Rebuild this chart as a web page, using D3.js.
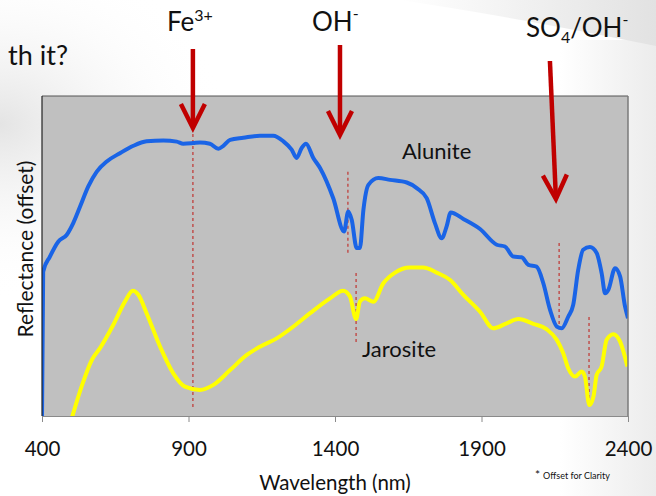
<!DOCTYPE html>
<html>
<head>
<meta charset="utf-8">
<script src="https://cdn.jsdelivr.net/npm/d3@7"></script>
<style>
  html, body { margin: 0; padding: 0; background: #fff; }
  svg { display: block; font-family: Lato, "Open Sans", sans-serif; }
</style>
</head>
<body>
<div id="chart"></div>
<script>
// wavelength (nm) / offset reflectance
const aluniteWl = [400, 404, 427, 456, 484, 507, 530, 558, 587, 621, 666, 712, 757, 814, 860, 882, 916, 939, 973, 1002,
  1019, 1042, 1087, 1144, 1189, 1224, 1252, 1269, 1286, 1301, 1326, 1349, 1394, 1431, 1445, 1457, 1474, 1485, 1497, 1514,
  1548, 1588, 1645, 1679, 1713, 1741, 1764, 1781, 1795, 1838, 1895, 1952, 1980, 2009, 2037, 2060, 2088, 2111, 2134, 2157,
  2174, 2196, 2213, 2230, 2247, 2270, 2293, 2310, 2322, 2333, 2356, 2373, 2390, 2400];
const aluniteR = [0, 48.7, 53.8, 58.9, 61.1, 65.2, 70.7, 77.5, 82.5, 85.9, 88.7, 91.2, 92.7, 93.0, 92.6, 91.9, 92.1, 92.3, 91.9, 90.2,
  91.2, 93.2, 93.9, 94.6, 94.6, 92.7, 89.9, 87.1, 90.4, 91.9, 87.1, 83.7, 73.5, 62.3, 69.0, 66.2, 56.7, 56.7, 69.6, 78.0,
  80.3, 79.7, 78.8, 76.9, 73.5, 65.1, 60.0, 64.0, 68.7, 66.5, 63.1, 57.8, 57.2, 53.8, 53.6, 51.0, 50.4, 44.8, 35.8, 30.2,
  29.6, 33.5, 37.5, 49.3, 56.1, 57.0, 55.0, 48.2, 41.4, 42.6, 49.9, 47.1, 36.9, 33.0];

const jarositeWl = [495, 535, 570, 598, 643, 683, 710, 729, 757, 803, 848, 888, 939, 985, 1042, 1099, 1144, 1201, 1258, 1315,
  1383, 1428, 1451, 1472, 1485, 1502, 1531, 1565, 1605, 1656, 1701, 1747, 1793, 1838, 1895, 1940, 1986, 2026, 2077, 2122,
  2157, 2179, 2196, 2219, 2242, 2253, 2268, 2282, 2293, 2310, 2327, 2350, 2373, 2398];
const jarositeR = [-3, 9.9, 18.9, 22.9, 30.7, 38.6, 42.3, 40.9, 34.7, 23.4, 14.4, 9.9, 8.8, 10.5, 15.5, 20.6, 23.4, 26.2, 30.2, 34.7,
  39.7, 42.3, 40.3, 32.7, 38.6, 39.7, 38.6, 44.8, 48.4, 50.1, 50.1, 48.4, 45.9, 40.9, 35.2, 29.6, 31.3, 32.7, 31.1, 29.3,
  25.7, 21.2, 16.1, 13.3, 15.0, 13.3, 3.7, 6.5, 13.9, 16.7, 25.7, 27.6, 25.1, 16.7];

const xTicks = [400, 900, 1400, 1900, 2400];

// dotted markers: wavelength, top and bottom reflectance
const markerWl = [915, 1444, 1472, 2165, 2267];
const markerTop = [97.2, 82.4, 48.3, 58.4, 33.4];
const markerBottom = [2.0, 54.4, 25.0, 29.7, 5.4];

// absorption arrows above the plot
const arrowLabels = ['Fe', 'OH', 'SO4/OH'];
const arrowWl = [915, 1417, 2154];

const width = 656, height = 496;
const margin = { top: 96, right: 28, bottom: 80, left: 42 };

const svg = d3.select('#chart').append('svg')
  .attr('width', width)
  .attr('height', height);

// slide background
const defs = svg.append('defs');
const swoosh = defs.append('linearGradient').attr('id', 'swoosh').attr('x1', 0).attr('x2', 1).attr('y1', 0).attr('y2', 0);
swoosh.append('stop').attr('offset', '0%').attr('stop-color', '#ffffff');
swoosh.append('stop').attr('offset', '100%').attr('stop-color', '#e2e2e2');
const side = defs.append('linearGradient').attr('id', 'side').attr('x1', 0).attr('x2', 1).attr('y1', 0).attr('y2', 0);
side.append('stop').attr('offset', '0%').attr('stop-color', '#ffffff');
side.append('stop').attr('offset', '100%').attr('stop-color', '#ececec');
const corner = defs.append('radialGradient').attr('id', 'corner').attr('cx', 0).attr('cy', 0.25).attr('r', 0.35);
corner.append('stop').attr('offset', '0%').attr('stop-color', '#e4e4e4');
corner.append('stop').attr('offset', '100%').attr('stop-color', '#ffffff').attr('stop-opacity', 0);

svg.append('rect').attr('width', width).attr('height', height).attr('fill', '#fff');
svg.append('rect').attr('width', width).attr('height', height).attr('fill', 'url(#corner)');
svg.append('rect').attr('x', 560).attr('y', 40).attr('width', 96).attr('height', 456).attr('fill', 'url(#side)');
svg.append('path')
  .attr('d', 'M400,0 Q520,18 656,46 L656,0 Z')
  .attr('fill', 'url(#swoosh)');

const x = d3.scaleLinear().domain([400, 2400]).range([margin.left, width - margin.right]);
const y = d3.scaleLinear().domain([0, 108]).range([height - margin.bottom, margin.top]);

const plotW = x(2400) - x(400);
const plotH = y(0) - y(108);

svg.append('rect')
  .attr('x', x(400)).attr('y', y(108))
  .attr('width', plotW).attr('height', plotH)
  .attr('fill', '#c0c0c0');

defs.append('clipPath').attr('id', 'plotClip')
  .append('rect')
  .attr('x', x(400)).attr('y', y(108))
  .attr('width', plotW).attr('height', plotH);

// dotted guide lines
const markers = svg.append('g');
markerWl.forEach((w, i) => {
  markers.append('line')
    .attr('x1', x(w)).attr('x2', x(w))
    .attr('y1', y(markerTop[i])).attr('y2', y(markerBottom[i]))
    .attr('stroke', '#c0504d')
    .attr('stroke-width', 1.5)
    .attr('stroke-dasharray', '3,3');
});

const line = d3.line()
  .x(d => x(d[0]))
  .y(d => y(d[1]))
  .curve(d3.curveMonotoneX);

const curves = svg.append('g').attr('clip-path', 'url(#plotClip)');
curves.append('path')
  .datum(jarositeWl.map((w, i) => [w, jarositeR[i]]))
  .attr('d', line)
  .attr('fill', 'none')
  .attr('stroke', '#ffff00')
  .attr('stroke-width', 4)
  .attr('stroke-linejoin', 'round');
curves.append('path')
  .datum(aluniteWl.map((w, i) => [w, aluniteR[i]]))
  .attr('d', line)
  .attr('fill', 'none')
  .attr('stroke', '#1a64e6')
  .attr('stroke-width', 4)
  .attr('stroke-linejoin', 'round');

// plot frame
svg.append('line').attr('x1', x(400)).attr('x2', x(2400)).attr('y1', y(108)).attr('y2', y(108))
  .attr('stroke', '#555').attr('stroke-width', 1);
svg.append('line').attr('x1', x(2400)).attr('x2', x(2400)).attr('y1', y(108)).attr('y2', y(0))
  .attr('stroke', '#7a7a7a').attr('stroke-width', 1.5);
svg.append('line').attr('x1', x(400)).attr('x2', x(400)).attr('y1', y(108)).attr('y2', y(0))
  .attr('stroke', '#222').attr('stroke-width', 1.2);

// x axis
const xAxis = svg.append('g')
  .attr('transform', `translate(0,${y(0)})`)
  .call(d3.axisBottom(x).tickValues(xTicks).tickSize(6).tickPadding(19).tickFormat(d3.format('d')));
xAxis.select('.domain').attr('stroke', '#8a8a8a');
xAxis.selectAll('.tick line').attr('stroke', '#8a8a8a');
xAxis.selectAll('.tick text')
  .attr('font-family', 'Lato, sans-serif')
  .attr('font-size', 20.5)
  .attr('fill', '#111');

svg.append('text')
  .attr('x', (x(400) + x(2400)) / 2)
  .attr('y', 490)
  .attr('text-anchor', 'middle')
  .attr('font-size', 20.5)
  .attr('fill', '#111')
  .text('Wavelength (nm)');

svg.append('text')
  .attr('transform', 'translate(33,249) rotate(-90)')
  .attr('text-anchor', 'middle')
  .attr('font-size', 21)
  .attr('fill', '#111')
  .text('Reflectance (offset)');

const note = svg.append('text')
  .attr('x', 535).attr('y', 479)
  .attr('font-size', 9)
  .attr('fill', '#111');
note.append('tspan').attr('font-size', 12).attr('dy', 0).text('*');
note.append('tspan').attr('dx', 3).text('Offset for Clarity');

// series labels
svg.append('text').attr('x', 402).attr('y', 159).attr('font-size', 22).attr('fill', '#111').text('Alunite');
svg.append('text').attr('x', 362).attr('y', 357).attr('font-size', 22).attr('fill', '#111').text('Jarosite');

// cropped slide text
svg.append('text').attr('x', 68).attr('y', 65).attr('text-anchor', 'end')
  .attr('font-size', 27).attr('fill', '#111').text('th it?');

// arrows
const red = '#c00000';
const arrows = [
  { x0: x(arrowWl[0]), y0: 49, x1: x(arrowWl[0]), y1: 128 },
  { x0: x(arrowWl[1]), y0: 45, x1: x(arrowWl[1]), y1: 135 },
  { x0: x(arrowWl[2]) - 6, y0: 61, x1: x(arrowWl[2]), y1: 199 }
];
arrows.forEach(a => {
  const ang = Math.atan2(a.y1 - a.y0, a.x1 - a.x0);
  const hl = 24, hw = 12;
  const bx = a.x1 - hl * Math.cos(ang), by = a.y1 - hl * Math.sin(ang);
  const nx = -Math.sin(ang), ny = Math.cos(ang);
  svg.append('line')
    .attr('x1', a.x0).attr('y1', a.y0)
    .attr('x2', a.x1 - 4 * Math.cos(ang)).attr('y2', a.y1 - 4 * Math.sin(ang))
    .attr('stroke', red).attr('stroke-width', 4.5);
  svg.append('path')
    .attr('d', `M${bx + nx * hw},${by + ny * hw} L${a.x1},${a.y1} L${bx - nx * hw},${by - ny * hw}`)
    .attr('fill', 'none')
    .attr('stroke', red)
    .attr('stroke-width', 4.5)
    .attr('stroke-linejoin', 'miter');
});

// arrow labels
const fe = svg.append('text').attr('x', 167).attr('y', 31).attr('font-size', 26).attr('fill', '#111');
fe.append('tspan').text(arrowLabels[0]);
fe.append('tspan').attr('dy', -10).attr('font-size', 16).text('3+');

const oh = svg.append('text').attr('x', 312).attr('y', 31).attr('font-size', 26).attr('fill', '#111');
oh.append('tspan').text(arrowLabels[1]);
oh.append('tspan').attr('dy', -12).attr('font-size', 16).text('-');

const so = svg.append('text').attr('x', 526).attr('y', 37).attr('font-size', 26).attr('fill', '#111');
so.append('tspan').text('SO');
so.append('tspan').attr('dy', 6).attr('font-size', 16).text('4');
so.append('tspan').attr('dy', -6).text('/OH');
so.append('tspan').attr('dy', -12).attr('font-size', 16).text('-');
</script>
</body>
</html>
